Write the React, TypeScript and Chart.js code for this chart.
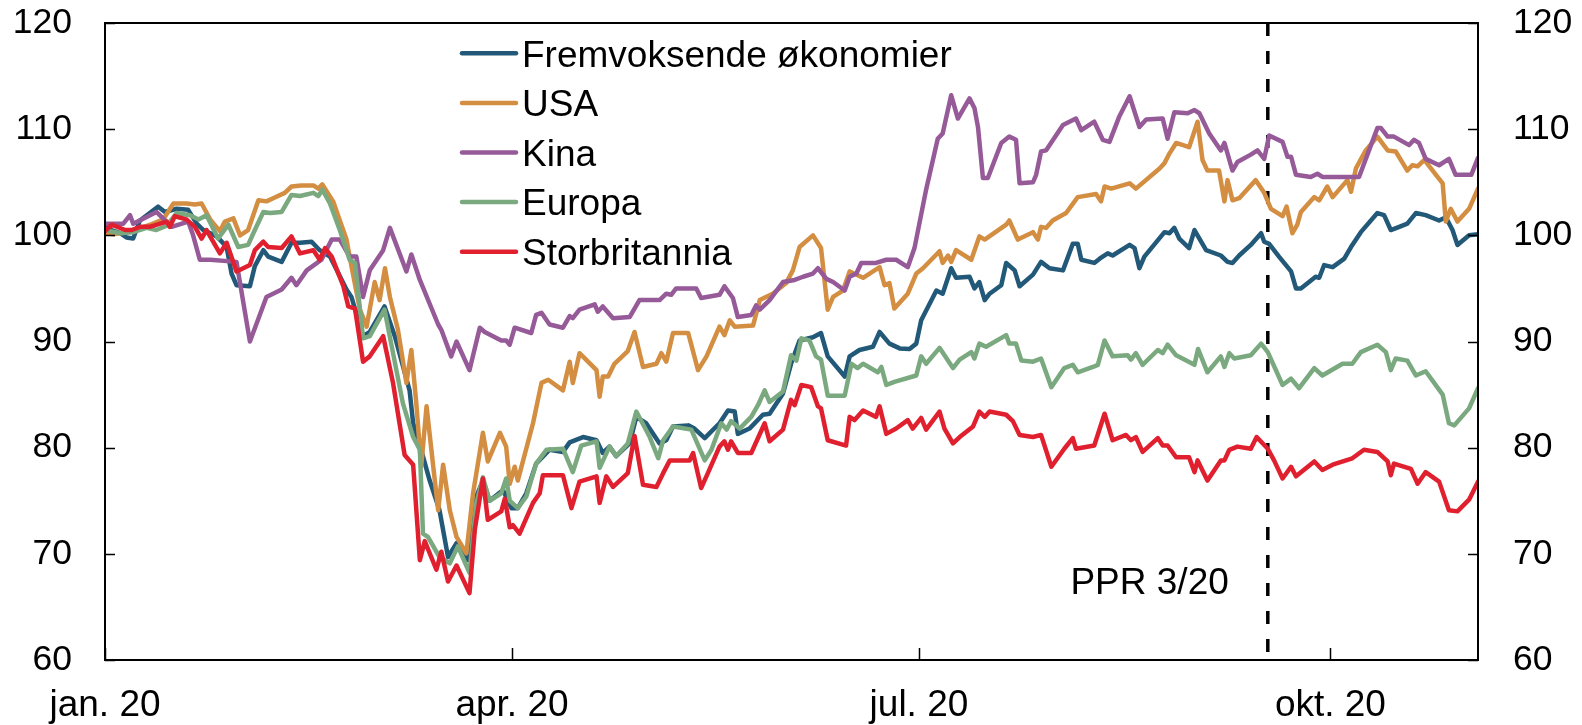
import React, { useEffect, useRef } from "react";
import { Chart, registerables } from "chart.js";

Chart.register(...registerables);

// ---- Data (x = days since 1 Jan 2020, y = index value) ----
const seriesNames = ["Fremvoksende økonomier", "USA", "Kina", "Europa", "Storbritannia"];
const seriesColors = ["#225878", "#D38E42", "#965A98", "#7BA97F", "#E0202E"];
const drawOrder = [4, 3, 2, 1, 0];

const emerging: [number, number][] = [
  [0, 100.7], [3.4, 100.2], [4.8, 99.8], [6.3, 99.7], [7.8, 101.4], [11.9, 102.7], [13.4, 102.2], [16, 102.5],
  [18.6, 102.4], [20.5, 101.1], [22, 100.5], [25, 99.9], [27.2, 98.9], [28.3, 96.4], [29.4, 95.3], [32.4, 95.2],
  [33.5, 97.1], [35.4, 98.6], [36.5, 98], [39.5, 97.5], [41.7, 99.3], [43.6, 99.3], [46.2, 99.4], [48, 98.6],
  [50.3, 98], [54, 94.9], [55.1, 94.2], [57.7, 90.5], [59.2, 90.9], [62.5, 93.3], [64.8, 90.5], [68.1, 85.4],
  [68.9, 82.3], [70.7, 79.8], [72.6, 76.9], [74.8, 74.1], [76.7, 69.7], [78.6, 71], [81.2, 69.4], [83, 75.4],
  [84.5, 76.9], [86, 75], [89, 76], [90.9, 74.3], [92.3, 74.3], [94.2, 75.7], [96.4, 78.5], [99.4, 79.8],
  [102.4, 79.6], [103.9, 80.5], [106.9, 81], [109.9, 80.7], [111.3, 79.5], [112.8, 80.1], [114.3, 79.2],
  [117.3, 80.4], [118.8, 82.9], [121, 82.3], [124, 80.4], [125.5, 80.7], [127, 82], [130.4, 82.1],
  [131.8, 81.8], [134.1, 80.9], [137.4, 82.3], [139.3, 83.5], [140.8, 83.4], [141.5, 81.3], [144.1, 81.8],
  [147.1, 83.1], [148.6, 83.2], [151.6, 85.1], [153.4, 87.9], [155.3, 90.1], [158.3, 90.4], [160.1, 90.8],
  [161.6, 88.6], [165.4, 86.7], [166.5, 88.6], [168.7, 89.2], [171.7, 89.5], [173.2, 90.9], [175.4, 89.8],
  [177.7, 89.35], [179.9, 89.3], [181.4, 89.8], [182.5, 92], [185.9, 94.8], [187.3, 94.5], [189.2, 96.9],
  [190.3, 96], [193.3, 96.1], [194.4, 95], [195.5, 95.6], [196.7, 93.9], [197.8, 94.5], [200.4, 95.3],
  [201.5, 97.4], [203.4, 96.7], [204.5, 95.2], [207.5, 96.3], [209.3, 97.5], [211.2, 96.9], [214.2, 96.7],
  [216.4, 99.2], [217.5, 99.2], [218.3, 97.7], [221.2, 97.4], [222.4, 97.8], [224.2, 98.3], [225.3, 98.1],
  [229.1, 99.1], [230.2, 98.8], [231.3, 96.9], [232.4, 98], [236.9, 100.3], [238, 100.2], [239.1, 100.7],
  [240.2, 99.7], [242.4, 98.8], [243.6, 100.5], [246.2, 98.6], [249.5, 98.1], [251, 97.5], [252.1, 97.4],
  [253.6, 98.1], [256.2, 99.1], [258.5, 100.2], [259.2, 99.4], [260.3, 99.2], [262.5, 98], [265.2, 96.6],
  [266.3, 95], [267.4, 95], [270.7, 96.1], [271.5, 96], [272.6, 97.2], [274.5, 97], [277.1, 97.8],
  [278.6, 98.9], [280.8, 100.3], [284.5, 102.1], [286, 101.9], [287.5, 100.5], [289.4, 100.8], [291.2, 101.1],
  [293.1, 102.1], [295.3, 101.9], [298.3, 101.4], [299.8, 101.7], [301.3, 100.5], [302.4, 99.1], [305, 100],
  [307, 100.1],
];

const usa: [number, number][] = [
  [0, 100.2], [1.9, 100.1], [6.3, 100.4], [10.1, 101], [13, 101.5], [15.3, 103], [18.2, 103], [20.1, 102.9],
  [21.6, 103], [23.5, 101.5], [25.7, 100.4], [26.8, 101.3], [28.7, 101.6], [30.2, 100], [32, 100.5],
  [34.3, 103.3], [36.1, 103.2], [37.6, 103.5], [40.2, 104], [41.7, 104.6], [43.9, 104.7], [46.6, 104.7],
  [47.7, 104.4], [48.6, 104.8], [51, 103.2], [54, 99.6], [55.1, 97.1], [57, 93], [58.5, 91.4], [60.3, 95.6],
  [61.4, 93.9], [62.6, 96.9], [63.7, 94.2], [65.5, 91.1], [67.4, 86.1], [68.5, 89.2], [69.6, 84.2],
  [70.7, 78.2], [71.9, 83.9], [73.4, 78.2], [74.5, 74.1], [75.6, 78.4], [77.1, 74.1], [78.6, 71.6],
  [80.8, 70.05], [82.3, 75.7], [84.5, 81.4], [85.6, 78.7], [88.3, 81.4], [89.7, 80.1], [90.5, 76.6],
  [91.6, 78.2], [92.3, 76.9], [95.7, 82.3], [97.6, 86.1], [99.1, 86.4], [102.4, 85.4], [103.9, 88.1],
  [104.6, 86.1], [106.1, 88.9], [109.9, 87.3], [110.6, 84.8], [111.3, 86.7], [112.5, 86.7], [113.9, 87.9],
  [116.9, 89.1], [118.4, 90.9], [120.3, 87.6], [123.3, 87.9], [124.4, 88.9], [125.5, 88.1], [127, 90.8],
  [130.4, 90.8], [132.6, 87.3], [134.5, 88.6], [137.4, 91.4], [138.5, 90.6], [139.7, 92], [140.8, 91.4],
  [144.9, 91.5], [146.4, 93.9], [149.3, 94.5], [152.3, 95.5], [153.8, 96.7], [155.3, 98.9], [158.3, 100],
  [160.1, 98.8], [161.6, 93], [162.8, 94.2], [165, 94.8], [166.5, 96.6], [169.5, 96], [173.2, 97],
  [174.3, 95.3], [175.4, 95.5], [176.5, 93.1], [179.5, 94.5], [181.4, 96.4], [182.9, 96.9], [186.6, 98.5],
  [187.3, 97.4], [188.5, 98.1], [189.2, 97.5], [190.3, 98.6], [193.7, 97.7], [195.5, 99.9], [196.7, 99.6],
  [201.5, 101], [202.2, 101.4], [204.1, 99.6], [207.5, 100.3], [208.6, 99.6], [209.3, 100.8], [210.4, 100.7],
  [211.9, 101.4], [214.9, 102.1], [217.5, 103.6], [221.6, 103.9], [222.7, 103.2], [223.5, 104.6], [225, 104.4],
  [229.1, 104.9], [230.5, 104.4], [235.8, 106.3], [236.9, 106.8], [238, 107.7], [239.5, 108.7], [242.4, 108.3],
  [244.3, 110.7], [245.4, 107.1], [246.5, 106.1], [249.1, 106.1], [250.3, 103.2], [251, 105.2], [252.1, 103.3],
  [253.6, 103.5], [257.3, 105.2], [259.2, 104], [260.7, 102.5], [263.3, 101.8], [264.2, 102.7], [265.5, 100.2],
  [266.6, 101], [267.4, 102.2], [270.4, 103.6], [271.5, 103.3], [273.3, 104.6], [274.5, 103.6], [277.8, 105.2],
  [278.6, 104.1], [279.7, 106.3], [281.9, 108], [284.5, 109.3], [286.8, 108], [288.6, 107.9], [291.2, 106.1],
  [292.3, 106.6], [293.5, 106.5], [295, 107.1], [297.6, 105.7], [299.1, 104.9], [299.8, 101.3], [300.9, 102.5],
  [302.4, 101.3], [305, 102.5], [307, 104.4],
];

const china: [number, number][] = [
  [0, 101.1], [4.1, 101.1], [5.6, 101.9], [6.3, 101.1], [8.2, 101.5], [11.5, 102.2], [14.9, 100.8],
  [18.6, 101.3], [19.7, 100], [21.2, 97.7], [23.5, 97.7], [29.4, 97.5], [32.4, 90], [36.1, 94.2], [39.5, 94.9],
  [41.7, 96], [42.8, 95.3], [45.1, 96.7], [48.4, 97.7], [50.7, 99.6], [52.5, 99.6], [54.7, 98], [56.2, 98],
  [57.7, 94.2], [59.2, 96.7], [62.2, 98.6], [63.7, 100.7], [67.4, 96.6], [68.5, 98.2], [70.4, 95.8],
  [74.5, 91.6], [75.2, 91.1], [77.4, 88.6], [78.6, 90], [81.5, 87.3], [83.8, 91.3], [84.9, 90.9], [88.6, 90.1],
  [89.7, 90.1], [90.5, 89.7], [91.6, 91.3], [95.3, 90.8], [96.4, 92.5], [97.6, 92.7], [99.4, 91.6],
  [102.4, 91.3], [103.9, 92.4], [104.6, 92.2], [106.1, 93], [109.5, 93.5], [110.2, 92.8], [111.3, 93.3],
  [113.6, 92.2], [117.3, 92.3], [119.5, 93.9], [121.8, 93.9], [124, 93.9], [125.5, 94.5], [126.6, 94.4],
  [127.7, 95], [132.2, 95], [133.3, 94.1], [137.4, 94.4], [138.5, 95.2], [140.4, 94.1], [141.5, 92.3],
  [144.5, 92.5], [145.6, 93.4], [146.4, 93], [148.6, 93.9], [151.6, 95.6], [154.2, 95.8], [156.1, 96.1],
  [158.3, 96.4], [159.4, 96.9], [161.3, 95.9], [162.8, 95.6], [165.4, 94.8], [166.5, 96.1], [168, 96.4],
  [169.1, 97.4], [172.4, 97.4], [174.7, 97.7], [176.9, 97.7], [179.5, 97], [181, 98.8], [183.6, 104.3],
  [186.2, 109.1], [187.3, 109.6], [189.2, 113.2], [190.7, 111], [193.3, 112.9], [194.4, 112], [195.2, 110.2],
  [196.3, 105.4], [197.4, 105.4], [200.4, 108.7], [202.2, 109.3], [203.7, 109], [204.5, 104.9], [207.5, 105],
  [208.2, 105.7], [209.3, 107.9], [210.4, 108], [214.2, 110.4], [217.1, 111], [218.3, 109.9], [221.2, 110.7],
  [223.1, 109], [224.6, 108.8], [226.8, 111.2], [229.1, 113.1], [231.3, 110.2], [232.8, 110.9], [236.5, 111],
  [237.6, 109.1], [239.1, 111.6], [242.1, 111.5], [243.6, 111.8], [244.7, 111.5], [246.9, 109.6], [249.5, 108],
  [250.3, 108.7], [252.1, 106.1], [253.2, 106.9], [256.2, 107.6], [257.7, 108], [259.2, 107.2], [260.3, 109.4],
  [263.3, 108.8], [264.4, 107.4], [265.2, 107.4], [266.3, 105.7], [269.6, 105.5], [271.1, 105.8],
  [272.2, 105.5], [280.4, 105.5], [284.5, 110.1], [285.3, 110.1], [286.8, 109.3], [288.2, 109.3],
  [291.6, 108.5], [292.7, 109], [293.8, 108.7], [295.3, 107.2], [298.3, 106.6], [300.5, 107.2], [302, 105.7],
  [305.5, 105.7], [307, 107.3],
];

const europe: [number, number][] = [
  [0, 100.5], [3.4, 100.2], [6.3, 100.3], [9.3, 100.7], [11.5, 100.5], [13.8, 100.9], [16, 102.1], [19, 101.9],
  [20.9, 101.5], [22.7, 101.9], [25.3, 99.7], [27.6, 101], [29.8, 98.9], [32, 99.1], [33.5, 100.5],
  [35.4, 102.2], [36.9, 102.1], [39.5, 102.2], [41.7, 103.8], [43.6, 103.7], [46.6, 104], [47.7, 103.7],
  [48.6, 104.3], [50.3, 103], [52.5, 100.5], [54.7, 97.7], [55.9, 97.4], [57.7, 90.3], [59.2, 90.5],
  [62.5, 93], [66.6, 84.2], [68.9, 81], [70.4, 79.8], [71.1, 71.9], [72.2, 71.6], [74.8, 69.7], [77.1, 69.1],
  [78.9, 70.7], [81.5, 68.2], [83, 74.7], [84.5, 77.2], [86, 75], [88.6, 75.7], [89.7, 77.1], [90.5, 75],
  [92.3, 74.3], [94.2, 75.4], [96.4, 78.5], [98.7, 79.8], [102.4, 79.9], [104.6, 77.7], [106.5, 80.2],
  [109.9, 80.6], [110.6, 78.1], [112.8, 80.1], [114.3, 79.2], [116.9, 80.4], [118.8, 83.4], [121.8, 81],
  [123.7, 79], [124.8, 80.7], [127, 82], [131.1, 81.7], [134.1, 78.8], [135.6, 79.8], [137.8, 82.3], [139, 81.7],
  [140, 82.5], [141.9, 81.8], [144.5, 82.9], [146, 84], [147.5, 85.4], [148.6, 84.3], [151.6, 85.3],
  [153.4, 88.7], [154.6, 88.2], [155.7, 90.3], [157.5, 90.1], [159, 88.6], [160.1, 88.3], [161.6, 84.9],
  [165.4, 84.9], [166.9, 87.9], [168.3, 87.5], [169.5, 87.9], [172.8, 87.1], [173.6, 87.6], [174.7, 85.9],
  [176.5, 86.2], [181.4, 86.8], [182.5, 88.6], [183.6, 87.9], [186.6, 89.4], [189.6, 87.5], [191.1, 88.3],
  [193.7, 89], [194.4, 88.4], [195.5, 89.8], [197, 89.5], [201.5, 90.6], [202.2, 89.8], [203.7, 89.8],
  [204.9, 88.2], [207.5, 88.1], [209.3, 88.4], [211.6, 85.7], [214.5, 87.5], [216.4, 87.8], [217.5, 87.1],
  [220.9, 87.6], [222, 87.8], [223.5, 90.1], [225.3, 88.6], [228.7, 88.7], [229.4, 88.3], [230.5, 88.9],
  [232, 87.8], [235.4, 89.2], [236.5, 88.9], [237.6, 89.7], [239.5, 88.7], [243.6, 87.8], [244.4, 89.3],
  [246.5, 87.1], [249.5, 88.6], [250.3, 87.6], [251.4, 88.9], [252.5, 88.4], [256.2, 88.7], [258.5, 89.8],
  [260, 89], [263.3, 85.9], [265.2, 86.5], [267, 85.6], [270.4, 87.5], [272.2, 86.8], [276.7, 87.9],
  [278.9, 87.9], [280.8, 89], [284.5, 89.7], [286.4, 89], [287.5, 87.3], [288.6, 88.4], [291.2, 88.2],
  [293.1, 86.8], [295.3, 87.2], [299.1, 85], [300.5, 82.3], [301.7, 82.1], [305, 83.7], [307, 85.6],
];

const uk: [number, number][] = [
  [0, 100.4], [1.5, 101], [4.5, 100.5], [6, 100.5], [7.8, 100.8], [10, 100.8], [13.8, 101.3], [14.5, 100.8],
  [15.6, 101.8], [18.2, 101.5], [20.1, 100.8], [21.6, 99.7], [22.7, 100.5], [25.7, 98.3], [27.2, 99.3],
  [29.4, 96.6], [32.4, 97.2], [33.5, 98.6], [35.4, 99.4], [36.5, 98.9], [39.5, 98.8], [41.7, 99.9],
  [43.6, 98.3], [46.6, 98.6], [48, 97.7], [49.2, 98.8], [50.7, 98], [53.3, 95.2], [54.4, 93.3], [55.9, 93.1],
  [57.7, 88.1], [59.2, 88.6], [62.2, 90.5], [64.4, 86.1], [67, 79.3], [68.9, 78.4], [70.4, 69.4], [71.5, 71.2],
  [74.1, 68.5], [75.2, 70.2], [76.7, 67.4], [78.6, 68.9], [81.5, 66.3], [82.7, 72.3], [84.5, 77.1],
  [85.6, 73.2], [88.6, 74], [89.4, 75.2], [90.5, 72.5], [91.2, 72.7], [92.7, 71.9], [95.7, 74.8], [97.2, 75.7],
  [97.9, 77.4], [102.4, 77.4], [104.3, 74.3], [106.1, 76.8], [109.9, 77.3], [110.6, 74.8], [112.1, 77.3],
  [113.6, 76.3], [116.9, 77.6], [118.4, 81.1], [120.3, 76.5], [123.3, 76.3], [124.8, 77.6], [126.3, 78.8],
  [130.7, 78.8], [131.5, 79.5], [133.3, 76.2], [134.8, 77.6], [137.4, 80.1], [138.5, 80.6], [139.3, 79.8],
  [140, 80.6], [141.5, 79.5], [144.5, 79.5], [147.5, 82.3], [148.6, 80.6], [151.6, 81.7], [153.4, 84.5],
  [154.2, 84], [155.7, 85.9], [157.9, 85.7], [159.4, 83.9], [160.1, 83.7], [161.6, 80.7], [165.7, 80.2],
  [166.5, 82.9], [167.6, 82.6], [169.5, 83.5], [172.4, 82.9], [173.2, 83.9], [174.7, 81.3], [176.9, 81.8],
  [179.5, 82.6], [180.6, 81.8], [182.5, 82.8], [183.6, 81.7], [186.6, 83.4], [187.7, 81.8], [189.6, 80.4],
  [191.1, 81], [194.1, 82], [195.5, 83.4], [196.7, 82.9], [197.8, 83.4], [201.5, 83.1], [203, 82.5],
  [204.5, 81.2], [207.5, 81], [209.3, 81.2], [211.6, 78.2], [214.5, 79.9], [216.4, 80.9], [217.1, 79.9],
  [221.2, 80.2], [223.5, 83.2], [225.3, 80.7], [228.3, 81.2], [229.4, 80.7], [230.5, 81], [232, 79.6],
  [235.4, 80.9], [236.5, 80.2], [237.6, 80.2], [239.5, 79.1], [242.4, 79.1], [243.6, 77.7], [244.3, 78.8],
  [246.5, 76.9], [249.5, 78.8], [250.3, 78.8], [251.4, 79.8], [253.2, 80.1], [256.2, 79.9], [257.5, 81],
  [260, 79.9], [261.4, 78.8], [263.3, 77.1], [265.2, 78.2], [266.3, 77.3], [270.4, 78.7], [272.2, 77.9],
  [274.5, 78.4], [278.9, 79], [281.5, 79.8], [284.5, 79.6], [286.8, 78.7], [287.5, 77.4], [288.2, 78.5],
  [292, 78], [293.5, 76.6], [295.3, 77.7], [298.3, 76.8], [300.5, 74.1], [302.4, 74], [305, 75.1], [307, 76.8],
];

const seriesData = [emerging, usa, china, europe, uk];

const tickDays = [0, 91, 182, 274];
const tickLabels = ["jan. 20", "apr. 20", "jul. 20", "okt. 20"];
const yMin = 60;
const yMax = 120;
const yStep = 10;
const lastDay = 307;
const markerDay = 260;
const markerLabel = "PPR 3/20";
const markerLabelValue = 67.2;

const FONT_FAMILY = "'Liberation Sans', Arial, Helvetica, sans-serif";

const decorPlugin = {
  id: "decor",
  beforeDatasetsDraw(chart: any) {
    const { ctx, chartArea } = chart;
    const xs = chart.scales.x;
    const mx = xs.getPixelForValue(markerDay);
    ctx.save();
    ctx.strokeStyle = "#000";
    ctx.lineWidth = 3.5;
    ctx.setLineDash([13, 15]);
    ctx.beginPath();
    ctx.moveTo(mx, chartArea.top);
    ctx.lineTo(mx, chartArea.bottom);
    ctx.stroke();
    ctx.restore();
  },
  afterDatasetsDraw(chart: any) {
    const { ctx, chartArea } = chart;
    const xs = chart.scales.x;
    const ys = chart.scales.y;
    ctx.save();
    // frame
    ctx.strokeStyle = "#000";
    ctx.lineWidth = 2;
    ctx.setLineDash([]);
    ctx.strokeRect(chartArea.left, chartArea.top, chartArea.right - chartArea.left, chartArea.bottom - chartArea.top);
    // inward tick marks
    ctx.beginPath();
    for (let v = yMin; v <= yMax; v += yStep) {
      const py = Math.round(ys.getPixelForValue(v)) + 0.5;
      ctx.moveTo(chartArea.left, py);
      ctx.lineTo(chartArea.left + 10, py);
      ctx.moveTo(chartArea.right, py);
      ctx.lineTo(chartArea.right - 10, py);
    }
    tickDays.forEach((d) => {
      const px = Math.round(xs.getPixelForValue(d)) + 0.5;
      ctx.moveTo(px, chartArea.bottom);
      ctx.lineTo(px, chartArea.bottom - 12);
    });
    ctx.lineWidth = 1.5;
    ctx.stroke();

    // marker label
    ctx.fillStyle = "#000";
    ctx.font = `37px ${FONT_FAMILY}`;
    ctx.textAlign = "right";
    ctx.textBaseline = "middle";
    ctx.fillText(markerLabel, xs.getPixelForValue(markerDay) - 39, ys.getPixelForValue(markerLabelValue));

    // legend
    const lx0 = 462;
    const lx1 = 516;
    const tx = 522;
    const rowY0 = 53.3;
    const rowStep = 49.6;
    chart.data.datasets.forEach((ds: any, i: number) => {
      const yRow = rowY0 + i * rowStep;
      ctx.strokeStyle = ds.borderColor;
      ctx.lineWidth = 4.5;
      ctx.lineCap = "round";
      ctx.beginPath();
      ctx.moveTo(lx0, yRow);
      ctx.lineTo(lx1, yRow);
      ctx.stroke();
      ctx.fillStyle = "#000";
      ctx.textAlign = "left";
      ctx.textBaseline = "alphabetic";
      ctx.font = `37px ${FONT_FAMILY}`;
      ctx.fillText(ds.label, tx, yRow + 13.2);
    });
    ctx.restore();
  },
};

const zeroPad = (s: any) => {
  s.paddingTop = 0;
  s.paddingBottom = 0;
  s.paddingLeft = 0;
  s.paddingRight = 0;
};

export default function App() {
  const canvasRef = useRef<HTMLCanvasElement | null>(null);

  useEffect(() => {
    const canvas = canvasRef.current;
    if (!canvas) return;
    const yTickFont = { family: FONT_FAMILY, size: 35.5 };
    const xTickFont = { family: FONT_FAMILY, size: 37 };
    const chart = new Chart(canvas, {
      type: "line",
      data: {
        datasets: seriesData.map((d, i) => ({
          label: seriesNames[i],
          data: d.map(([x, y]) => ({ x, y })),
          borderColor: seriesColors[i],
          backgroundColor: seriesColors[i],
          borderWidth: 4.5,
          pointRadius: 0,
          pointHoverRadius: 0,
          tension: 0,
          borderJoinStyle: "round",
          borderCapStyle: "round",
          order: drawOrder[i],
          yAxisID: "y",
          fill: false,
        })) as any,
      },
      options: {
        animation: false,
        responsive: false,
        devicePixelRatio: 1,
        events: [],
        layout: { padding: { top: 23, left: 0, right: 0, bottom: 0 }, autoPadding: false },
        plugins: {
          legend: { display: false },
          tooltip: { enabled: false },
          title: { display: false },
        },
        scales: {
          x: {
            type: "linear",
            min: 0,
            max: lastDay,
            afterBuildTicks: (s: any) => {
              s.ticks = tickDays.map((v) => ({ value: v }));
            },
            ticks: {
              callback: (v: any) => {
                const idx = tickDays.indexOf(Number(v));
                return idx >= 0 ? tickLabels[idx] : "";
              },
              font: xTickFont,
              color: "#000",
              padding: 24,
              maxRotation: 0,
              minRotation: 0,
              autoSkip: false,
            },
            grid: { display: false, drawTicks: false },
            border: { display: false },
            afterFit: (s: any) => {
              s.height = 65;
              zeroPad(s);
            },
          },
          y: {
            position: "left",
            min: yMin,
            max: yMax,
            ticks: { stepSize: yStep, font: yTickFont, color: "#000", padding: 33 },
            grid: { display: false, drawTicks: false },
            border: { display: false },
            afterFit: (s: any) => {
              s.width = 105;
              zeroPad(s);
            },
          },
          y2: {
            position: "right",
            min: yMin,
            max: yMax,
            ticks: { stepSize: yStep, font: yTickFont, color: "#000", padding: 35 },
            grid: { display: false, drawTicks: false },
            border: { display: false },
            afterFit: (s: any) => {
              s.width = 104;
              zeroPad(s);
            },
          },
        },
      } as any,
      plugins: [decorPlugin],
    });
    return () => chart.destroy();
  }, []);

  return (
    <div
      style={{
        position: "fixed",
        left: 0,
        top: 0,
        width: 1582,
        height: 725,
        background: "#fff",
      }}
    >
      <canvas ref={canvasRef} width={1582} height={725} style={{ display: "block" }} />
    </div>
  );
}
